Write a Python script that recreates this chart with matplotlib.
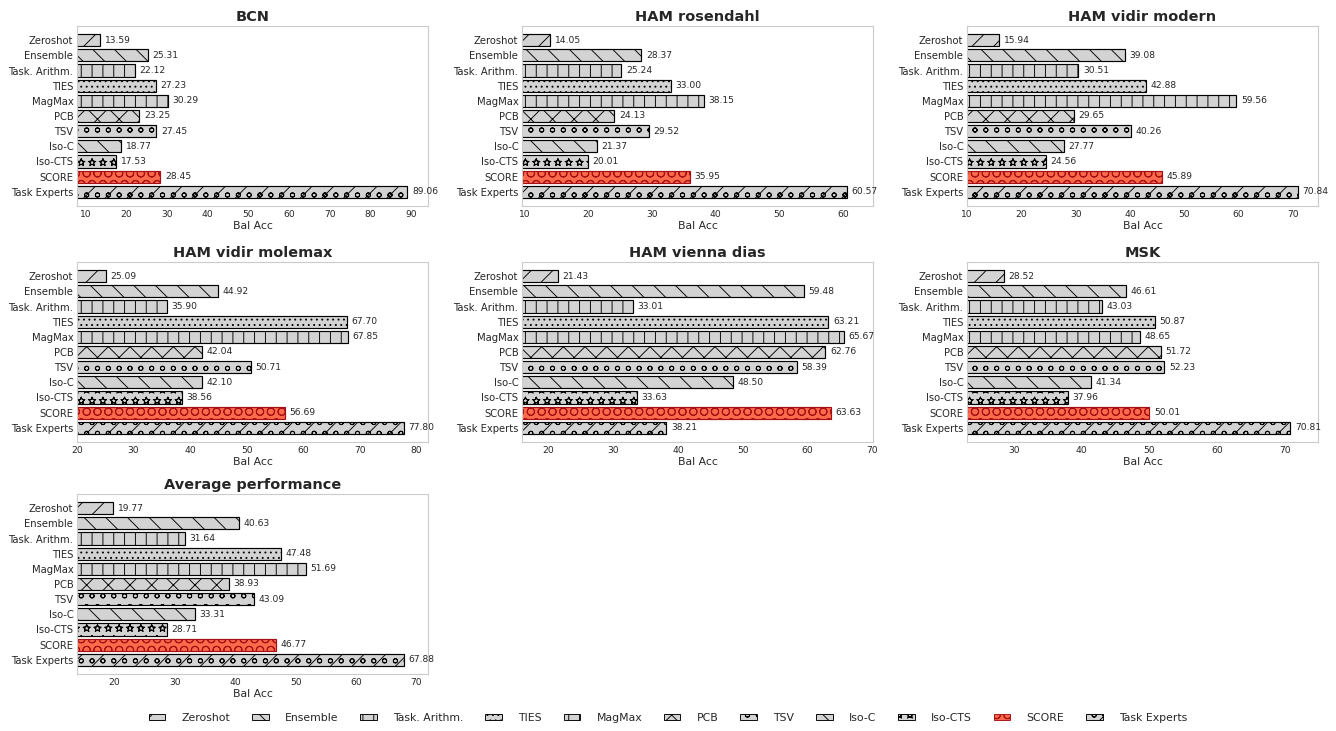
import matplotlib
matplotlib.use("Agg")
import matplotlib.pyplot as plt
import matplotlib.patches as mpatches
import matplotlib.hatch as mhatch

# Draw the '*' hatch as outlined stars rather than solid ones
mhatch.Stars.filled = False

# Methods (top to bottom) and their bar hatches
methods = ["Zeroshot", "Ensemble", "Task. Arithm.", "TIES", "MagMax", "PCB",
           "TSV", "Iso-C", "Iso-CTS", "SCORE", "Task Experts"]
hatches = ["/", "\\", "|", "..", "|", "x", "o", "\\", "*", "O", "o/"]

# Balanced accuracy per dataset
bcn = [13.59, 25.31, 22.12, 27.23, 30.29, 23.25, 27.45, 18.77, 17.53, 28.45, 89.06]
ham_rosendahl = [14.05, 28.37, 25.24, 33.00, 38.15, 24.13, 29.52, 21.37, 20.01, 35.95, 60.57]
ham_vidir_modern = [15.94, 39.08, 30.51, 42.88, 59.56, 29.65, 40.26, 27.77, 24.56, 45.89, 70.84]
ham_vidir_molemax = [25.09, 44.92, 35.90, 67.70, 67.85, 42.04, 50.71, 42.10, 38.56, 56.69, 77.80]
ham_vienna_dias = [21.43, 59.48, 33.01, 63.21, 65.67, 62.76, 58.39, 48.50, 33.63, 63.63, 38.21]
msk = [28.52, 46.61, 43.03, 50.87, 48.65, 51.72, 52.23, 41.34, 37.96, 50.01, 70.81]
average = [19.77, 40.63, 31.64, 47.48, 51.69, 38.93, 43.09, 33.31, 28.71, 46.77, 67.88]

titles = ["BCN", "HAM rosendahl", "HAM vidir modern", "HAM vidir molemax",
          "HAM vienna dias", "MSK", "Average performance"]
panels = [bcn, ham_rosendahl, ham_vidir_modern, ham_vidir_molemax,
          ham_vienna_dias, msk, average]
xlims = [(7.96, 94.1), (9.64, 64.7), (10.0, 74.6), (20.0, 82.06),
         (15.9, 70.1), (23.1, 74.9), (13.77, 71.9)]

TEXT = "#262626"
GRAY_FACE = "#d3d3d3"
SCORE_FACE = "#fb6a4a"
SCORE_EDGE = "#a50f15"

plt.rcParams.update({
    "font.family": ["DejaVu Sans"],
    "text.color": TEXT,
    "axes.labelcolor": TEXT,
    "xtick.color": TEXT,
    "ytick.color": TEXT,
    "axes.edgecolor": "#cccccc",
    "axes.linewidth": 1.25,
    "hatch.linewidth": 1.0,
})

DPI = 65.6
W, H = 1336, 731
fig = plt.figure(figsize=(W / DPI, H / DPI), dpi=DPI)

col_left = [77, 522, 967]
row_top = [26, 262, 494]
ax_w, ax_h = 351, 180


def face_of(m):
    return SCORE_FACE if m == "SCORE" else GRAY_FACE


def edge_of(m):
    return SCORE_EDGE if m == "SCORE" else "black"


for k, (title, vals, lim) in enumerate(zip(titles, panels, xlims)):
    r, c = divmod(k, 3)
    rect = [col_left[c] / W, 1 - (row_top[r] + ax_h) / H, ax_w / W, ax_h / H]
    ax = fig.add_axes(rect)
    ypos = list(range(len(methods)))
    bars = ax.barh(ypos, vals, height=0.8,
                   color=[face_of(m) for m in methods],
                   edgecolor=[edge_of(m) for m in methods],
                   linewidth=1.3)
    for b, h in zip(bars, hatches):
        b.set_hatch(h)
    ax.bar_label(bars, labels=[f"{v:.2f}" for v in vals], padding=5,
                 fontsize=10, color=TEXT)
    ax.set_yticks(ypos)
    ax.set_yticklabels(methods, fontsize=11)
    ax.invert_yaxis()
    ax.set_xlim(*lim)
    ax.tick_params(axis="both", length=0, pad=4)
    ax.tick_params(axis="x", labelsize=10)
    ax.set_xlabel("Bal Acc", fontsize=12, labelpad=3)
    ax.set_title(title, fontsize=16, fontweight="bold", color=TEXT, pad=6)
    ax.grid(False)

handles = [mpatches.Patch(facecolor=face_of(m), edgecolor=edge_of(m),
                          hatch=h, linewidth=1.0, label=m)
           for m, h in zip(methods, hatches)]
fig.legend(handles=handles, loc="center", bbox_to_anchor=(0.5, 1 - 718 / H),
           ncol=len(methods), frameon=False, fontsize=12,
           handlelength=1.5, handleheight=0.5, handletextpad=1.5,
           columnspacing=2.0)

fig.savefig("out.png", dpi=DPI)
